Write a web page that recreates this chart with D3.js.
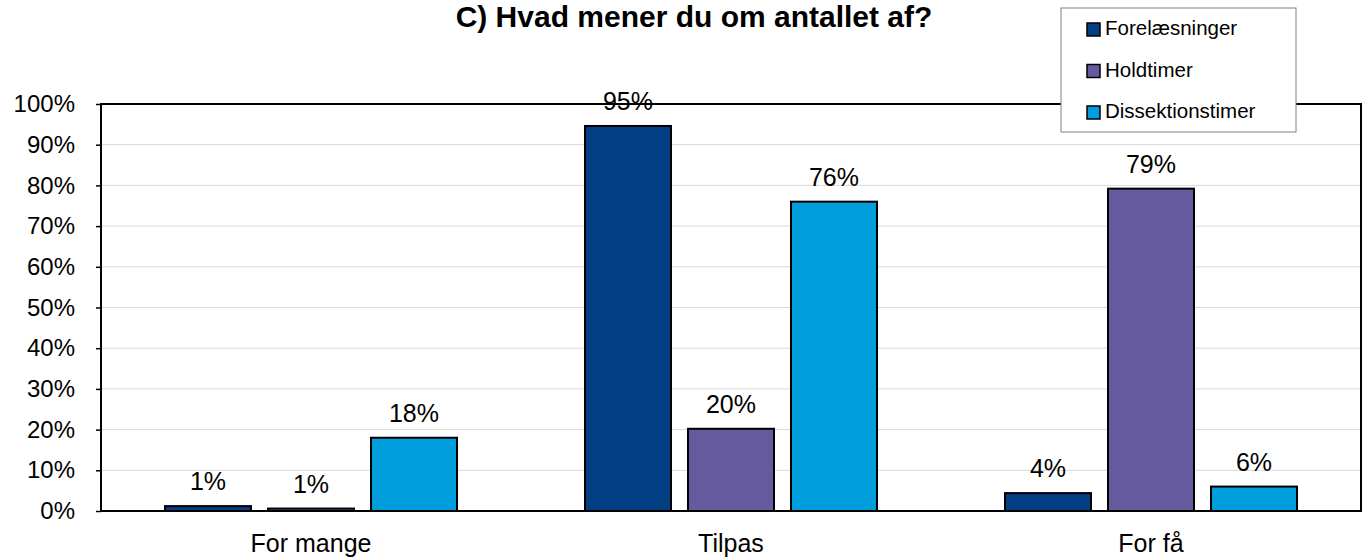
<!DOCTYPE html>
<html lang="da">
<head>
  <meta charset="UTF-8">
  <title>C) Hvad mener du om antallet af?</title>
  <style>
    body { margin: 0; background: #fff; font-family: "Liberation Sans", Arial, sans-serif; }
    svg { display: block; }
  </style>
</head>
<body>
  <div id="chart"></div>
  <script src="https://d3js.org/d3.v7.min.js"></script>
  <script>
    const categories = ['For mange', 'Tilpas', 'For få'];
    const seriesNames = ['Forelæsninger', 'Holdtimer', 'Dissektionstimer'];
    const forelaesninger = [1.2, 94.6, 4.4];
    const holdtimer = [0.6, 20.2, 79.2];
    const dissektionstimer = [18, 76, 6];
    const valueLabels = [['1%', '95%', '4%'], ['1%', '20%', '79%'], ['18%', '76%', '6%']];
    const yTicks = [0, 10, 20, 30, 40, 50, 60, 70, 80, 90, 100];
    const colors = ['#023e84', '#665a9e', '#009ddd'];

    const allSeries = [forelaesninger, holdtimer, dissektionstimer];

    const width = 1366;
    const height = 558;
    const margin = { top: 104, right: 5, bottom: 47, left: 101 };
    const plotW = width - margin.left - margin.right;
    const plotH = height - margin.top - margin.bottom;
    const font = '"Liberation Sans", Arial, sans-serif';

    const svg = d3.select('#chart')
      .append('svg')
      .attr('width', width)
      .attr('height', height)
      .attr('font-family', font);

    const g = svg.append('g')
      .attr('transform', `translate(${margin.left}, ${margin.top})`);

    const xScale = d3.scaleBand()
      .domain(categories)
      .range([0, plotW]);

    const xInner = d3.scaleBand()
      .domain(seriesNames)
      .range([64, xScale.bandwidth() - 64])
      .paddingInner(0.165);

    const yScale = d3.scaleLinear()
      .domain([0, 100])
      .range([plotH, 0]);

    // gridlines
    g.selectAll('.grid')
      .data(yTicks.filter(t => t > 0 && t < 100))
      .enter()
      .append('line')
      .attr('class', 'grid')
      .attr('x1', 0)
      .attr('x2', plotW)
      .attr('y1', d => yScale(d))
      .attr('y2', d => yScale(d))
      .attr('stroke', '#d9d9d9')
      .attr('stroke-width', 1);

    // bars + value labels
    allSeries.forEach((vals, si) => {
      g.selectAll('.bar-' + si)
        .data(vals)
        .enter()
        .append('rect')
        .attr('class', 'bar-' + si)
        .attr('x', (d, i) => xScale(categories[i]) + xInner(seriesNames[si]))
        .attr('y', d => yScale(d))
        .attr('width', xInner.bandwidth())
        .attr('height', d => plotH - yScale(d))
        .attr('fill', colors[si])
        .attr('stroke', '#000')
        .attr('stroke-width', 2);

      g.selectAll('.lbl-' + si)
        .data(vals)
        .enter()
        .append('text')
        .attr('class', 'lbl-' + si)
        .attr('x', (d, i) => xScale(categories[i]) + xInner(seriesNames[si]) + xInner.bandwidth() / 2)
        .attr('y', d => yScale(d) - 16)
        .attr('text-anchor', 'middle')
        .attr('font-size', 25)
        .attr('fill', '#000')
        .text((d, i) => valueLabels[si][i]);
    });

    // y axis
    const yAxis = g.append('g')
      .call(d3.axisLeft(yScale).tickValues(yTicks).tickFormat(d => d + '%').tickSize(5).tickPadding(21));
    yAxis.select('.domain').remove();
    yAxis.selectAll('line').attr('stroke', '#000').attr('stroke-width', 1.5);
    yAxis.selectAll('text').attr('font-size', 24).attr('font-family', font).attr('fill', '#000');

    // category labels
    g.selectAll('.cat')
      .data(categories)
      .enter()
      .append('text')
      .attr('class', 'cat')
      .attr('x', d => xScale(d) + xScale.bandwidth() / 2)
      .attr('y', plotH + 41)
      .attr('text-anchor', 'middle')
      .attr('font-size', 25)
      .attr('fill', '#000')
      .text(d => d);

    // plot border
    g.append('rect')
      .attr('x', 0)
      .attr('y', 0)
      .attr('width', plotW)
      .attr('height', plotH)
      .attr('fill', 'none')
      .attr('stroke', '#000')
      .attr('stroke-width', 2);

    // title
    svg.append('text')
      .attr('x', 694)
      .attr('y', 27)
      .attr('text-anchor', 'middle')
      .attr('font-size', 30)
      .attr('font-weight', 'bold')
      .attr('fill', '#000')
      .text('C) Hvad mener du om antallet af?');

    // legend
    const legend = svg.append('g').attr('transform', 'translate(1061, 8)');
    legend.append('rect')
      .attr('width', 235)
      .attr('height', 124)
      .attr('fill', '#fff')
      .attr('stroke', '#808080')
      .attr('stroke-width', 1);
    seriesNames.forEach((name, i) => {
      const row = legend.append('g').attr('transform', `translate(26, ${27 + i * 41.5})`);
      row.append('rect')
        .attr('x', 0)
        .attr('y', -12)
        .attr('width', 13)
        .attr('height', 13)
        .attr('fill', colors[i])
        .attr('stroke', '#000')
        .attr('stroke-width', 1.5);
      row.append('text')
        .attr('x', 18)
        .attr('y', 0)
        .attr('font-size', 20.5)
        .attr('fill', '#000')
        .text(name);
    });
  </script>
</body>
</html>
